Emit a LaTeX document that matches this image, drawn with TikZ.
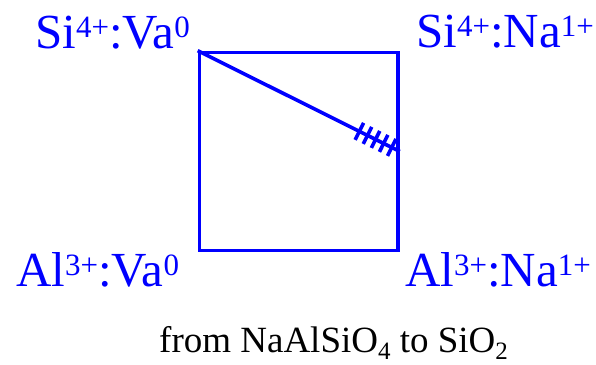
\documentclass[tikz,border=0pt]{standalone}
\usepackage{fontspec}
\setmainfont{Liberation Serif}
\usetikzlibrary{calc}
\newcommand\mysup[1]{\raisebox{10.5pt}{\fontsize{31}{31}\selectfont #1}}
\newcommand\mysub[1]{\raisebox{-7pt}{\fontsize{25}{25}\selectfont #1}}
\tikzset{
  lab/.style={text=blue, font=\fontsize{49}{49}\selectfont, anchor=base west, inner sep=0pt},
  frame/.style={draw=blue, line width=3.6pt},
  bl3/.style={blue, line width=3.6pt},
}
\begin{document}
\begin{tikzpicture}[x=1pt,y=-1pt]
\useasboundingbox (0,0) rectangle (596,364);
\node[frame, minimum width=198.5pt, minimum height=198pt, inner sep=0pt] (sq) at (298.75,151.5) {};
\draw[bl3] (sq.north west) -- (sq.east);
\foreach \f in {0.80,0.84,0.88,0.92,0.96,1.0}{
  \draw[bl3] ($(sq.north west)!\f!(sq.east)$) coordinate (p)
    ($(p)!9.5pt!90:(sq.east)$) -- ($(p)!9.5pt!-90:(sq.east)$);
}
\node[lab] (tl) at (35,48) {Si\mysup{4+}:Va\mysup{0}};
\node[lab] (tr) at (416,47) {Si\mysup{4+}:Na\mysup{1+}};
\node[lab] (bl) at (16,286) {Al\mysup{3+}:Va\mysup{0}};
\node[lab] (br) at (405,286) {Al\mysup{3+}:Na\mysup{1+}};
\node[anchor=base west, inner sep=0pt, font=\fontsize{37}{37}\selectfont] (cap) at (159,352) {from NaAlSiO\mysub{4} to SiO\mysub{2}};
\end{tikzpicture}
\end{document}
